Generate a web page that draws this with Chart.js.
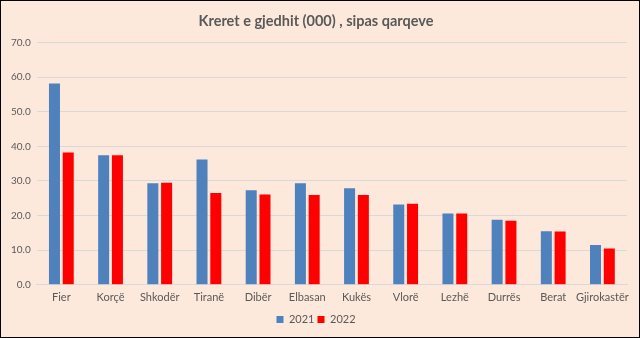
<!DOCTYPE html>
<html>
<head>
<meta charset="utf-8">
<script src="https://cdn.jsdelivr.net/npm/chart.js@4"></script>
<style>
  html, body { margin: 0; padding: 0; }
  #wrap {
    width: 640px; height: 338px; box-sizing: border-box;
    border: 1px solid #000; background: #FDE9DB; position: relative;
  }
  canvas { display: block; }
</style>
</head>
<body>
<div id="wrap"><canvas id="chart" width="638" height="336"></canvas></div>
<script>
// categories and values
var regions = ["Fier", "Korçë", "Shkodër", "Tiranë", "Dibër", "Elbasan", "Kukës", "Vlorë", "Lezhë", "Durrës", "Berat", "Gjirokastër"];
var values2021 = [58.1, 37.4, 29.3, 36.2, 27.3, 29.3, 27.9, 23.2, 20.6, 18.8, 15.5, 11.5];
var values2022 = [38.2, 37.4, 29.5, 26.5, 26.1, 25.9, 25.9, 23.4, 20.6, 18.5, 15.4, 10.5];
var yTicks = [0, 10, 20, 30, 40, 50, 60, 70];

var txt = "#595959";

var ctx = document.getElementById("chart").getContext("2d");
var chart = new Chart(ctx, {
  type: "bar",
  data: {
    labels: regions,
    datasets: [
      { label: "2021", data: values2021, backgroundColor: "#4F81BD" },
      { label: "2022", data: values2022, backgroundColor: "#FF0000" }
    ]
  },
  options: {
    responsive: false,
    animation: false,
    devicePixelRatio: 1,
    layout: { padding: { left: 4, right: 12, top: 4, bottom: 2 } },
    datasets: { bar: { categoryPercentage: 0.56, barPercentage: 0.8 } },
    plugins: {
      title: {
        display: true,
        text: "Kreret e gjedhit (000) , sipas qarqeve",
        color: txt,
        font: { family: "Lato", size: 14.5, weight: "bold" },
        padding: { top: 8, bottom: 12 }
      },
      legend: {
        position: "bottom",
        labels: {
          color: txt,
          font: { family: "Lato", size: 11 },
          boxWidth: 7, boxHeight: 7, padding: 3
        }
      },
      tooltip: { enabled: false }
    },
    scales: {
      x: {
        grid: { display: false, drawTicks: false },
        border: { color: "#D9D9D9" },
        ticks: { color: txt, font: { family: "Lato", size: 11 }, padding: 6.5, maxRotation: 0, autoSkip: false }
      },
      y: {
        min: 0, max: 70,
        afterBuildTicks: function (axis) {
          axis.ticks = yTicks.map(function (v) { return { value: v }; });
        },
        grid: { color: "#D9D9D9", drawTicks: false },
        border: { display: false },
        ticks: {
          color: txt, font: { family: "Lato", size: 10 }, padding: 6,
          callback: function (v) { return v.toFixed(1); }
        }
      }
    }
  }
});
</script>
</body>
</html>
